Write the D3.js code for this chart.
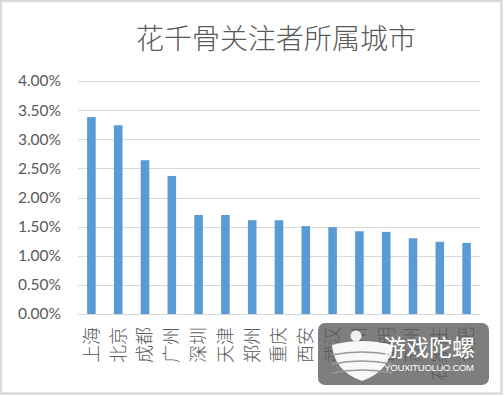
<!DOCTYPE html>
<html>
<head>
<meta charset="utf-8">
<script src="https://cdn.jsdelivr.net/npm/d3@7/dist/d3.min.js"></script>
<style>
  html, body { margin: 0; padding: 0; background: #fff; }
  #vis { width: 504px; height: 397px; }
  .axis text { fill: #595959; }
</style>
</head>
<body>
<div id="vis"></div>
<script>
// data
var cities = ["上海", "北京", "成都", "广州", "深圳", "天津", "郑州", "重庆", "西安",
              "武汉", "杭州", "昆明", "苏州", "石家庄", "合肥"];
var shares = [0.0338, 0.0324, 0.0264, 0.0237, 0.0170, 0.0170, 0.0161, 0.0161, 0.0151,
              0.0149, 0.0142, 0.0141, 0.0130, 0.0124, 0.0122];
var y_ticks = [0, 0.005, 0.01, 0.015, 0.02, 0.025, 0.03, 0.035, 0.04];
var title = "花千骨关注者所属城市";

var width = 504;
var height = 397;

var margin = {
    top: 81,
    bottom: 83,
    left: 78,
    right: 24
};

var cjk = "'Noto Sans CJK SC', 'Noto Sans CJK JP', sans-serif";

var root = d3.select('#vis')
    .append('svg')
    .attr('width', width)
    .attr('height', height);

// outer frame
root.append('rect')
    .attr('x', 1).attr('y', 1)
    .attr('width', width - 3.5).attr('height', height - 4.5)
    .attr('fill', '#fff')
    .attr('stroke', '#d9d9d9')
    .attr('stroke-width', 2.5);

var svg = root.append('g')
    .attr('transform', 'translate(' + margin.left + ',' + margin.top + ')');

var w = width - margin.left - margin.right;
var h = height - margin.top - margin.bottom;

var x_scale = d3.scaleBand()
    .domain(cities)
    .range([0, w])
    .paddingInner(0.68)
    .paddingOuter(0.34);

var y_scale = d3.scaleLinear()
    .domain([0, 0.04])
    .range([h, 0]);

// gridlines
svg.append('g')
    .attr('class', 'grid')
    .selectAll('line')
    .data(y_ticks)
    .enter()
    .append('line')
    .attr('x1', 0)
    .attr('x2', w)
    .attr('y1', function(d) { return Math.round(y_scale(d)) + 0.5; })
    .attr('y2', function(d) { return Math.round(y_scale(d)) + 0.5; })
    .attr('stroke', '#d9d9d9')
    .attr('stroke-width', 1);

// bars
svg.selectAll('.bar')
    .data(cities)
    .enter()
    .append('rect')
    .attr('class', 'bar')
    .attr('x', function(d) { return x_scale(d); })
    .attr('width', x_scale.bandwidth())
    .attr('y', function(d, i) { return y_scale(shares[i]); })
    .attr('height', function(d, i) { return h - y_scale(shares[i]); })
    .attr('fill', '#5b9bd5');

// y axis
var y_axis = d3.axisLeft(y_scale)
    .tickValues(y_ticks)
    .tickSize(0)
    .tickPadding(17)
    .tickFormat(d3.format('.2%'));

svg.append('g')
    .attr('class', 'y axis')
    .call(y_axis)
    .call(function(g) { g.select('.domain').remove(); })
    .selectAll('text')
    .style('font', "15.5px Lato, 'Liberation Sans', sans-serif");

// x axis, labels rotated
var x_axis = d3.axisBottom(x_scale).tickSize(0);

svg.append('g')
    .attr('class', 'x axis')
    .attr('transform', 'translate(0,' + h + ')')
    .call(x_axis)
    .call(function(g) { g.select('.domain').remove(); })
    .selectAll('text')
    .attr('transform', 'rotate(-90)')
    .attr('x', -13)
    .attr('y', 0)
    .attr('dy', '0.35em')
    .style('text-anchor', 'end')
    .style('font-family', cjk)
    .style('font-weight', 300)
    .style('font-size', '18px');

// title
root.append('text')
    .attr('x', 276)
    .attr('y', 49)
    .attr('text-anchor', 'middle')
    .style('font-family', cjk)
    .style('font-weight', 300)
    .style('font-size', '28px')
    .style('fill', '#595959')
    .text(title);

// watermark
var wm = root.append('g')
    .attr('transform', 'translate(318,323)');

wm.append('rect')
    .attr('width', 171)
    .attr('height', 62)
    .attr('rx', 7)
    .attr('fill', 'rgb(90,90,90)')
    .attr('fill-opacity', 0.78);

var logo = wm.append('g')
    .attr('transform', 'translate(44,0)')
    .attr('fill', '#fff');

logo.append('circle')
    .attr('cx', -6).attr('cy', 13).attr('r', 5.5)
    .attr('fill-opacity', 0.9);

logo.append('path')
    .attr('d', 'M-30,22 Q0,14 30,22 Q28,48 0,58 Q-28,48 -30,22 Z')
    .attr('fill-opacity', 0.95);

logo.selectAll('.stripe')
    .data([32, 41, 50])
    .enter()
    .append('path')
    .attr('class', 'stripe')
    .attr('d', function(d) { return 'M-30,' + d + ' Q0,' + (d - 6) + ' 30,' + d; })
    .attr('fill', 'none')
    .attr('stroke', '#9a9a9a')
    .attr('stroke-width', 1.6);

wm.append('text')
    .attr('x', 111)
    .attr('y', 33)
    .attr('text-anchor', 'middle')
    .style('font-family', cjk)
    .style('font-size', '23px')
    .style('fill', '#fff')
    .text('游戏陀螺');

wm.append('text')
    .attr('x', 111)
    .attr('y', 48)
    .attr('text-anchor', 'middle')
    .style('font-family', "'Liberation Sans', sans-serif")
    .style('font-size', '9.5px')
    .style('letter-spacing', '-0.3px')
    .style('fill', '#fff')
    .text('YOUXITUOLUO.COM');
</script>
</body>
</html>
